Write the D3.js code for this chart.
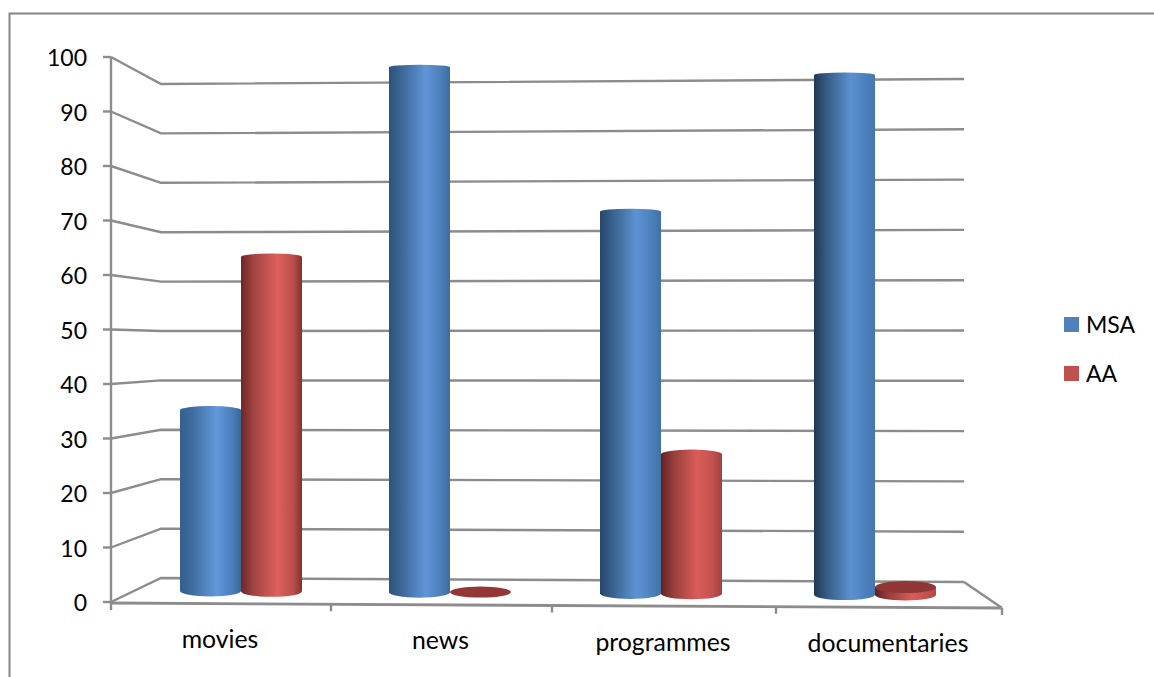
<!DOCTYPE html>
<html><head><meta charset="utf-8">
<script src="https://cdn.jsdelivr.net/npm/d3@7"></script>
<style>html,body{margin:0;padding:0;background:#fff}svg{display:block}text{font-family:Lato,"Open Sans",sans-serif;fill:#000}</style>
</head><body><svg id="c" width="1154" height="677"></svg>
<script>
const categories = ["movies","news","programmes","documentaries"];
const seriesNames = ["MSA","AA"];
const msaValues = [34.5,100,72.5,98.5];
const aaValues = [63.8,0,26.5,1.5];
const yTicks = [0,10,20,30,40,50,60,70,80,90,100];

const svg = d3.select("#c");
const W=1154,H=677;
// Perspective planes of the box
const yFront = d3.scaleLinear().domain([0,100]).range([602,57]);
const yBackL = d3.scaleLinear().domain([0,100]).range([578,84]);
const yBackR = d3.scaleLinear().domain([0,100]).range([582,79]);
const xFrontL=111, xBackL=161, xBackR=964, xFrontR=1002;
const GRID="#8c8c8c", SW=2.4;
// Frame
svg.append("path").attr("d",`M9.5,${H}V13.5H${W}`).attr("fill","none").attr("stroke","#868686").attr("stroke-width",2);

const line=d3.line();
// gridlines
yTicks.forEach(t=>{
  svg.append("path").attr("d",line([[xFrontL,yFront(t)],[xBackL,yBackL(t)],[xBackR,yBackR(t)]]))
    .attr("fill","none").attr("stroke",GRID).attr("stroke-width",SW);
  svg.append("path").attr("d",line([[103,yFront(t)],[xFrontL,yFront(t)]])).attr("stroke",GRID).attr("stroke-width",SW);
  svg.append("text").attr("x",87).attr("y",yFront(t)+9).attr("text-anchor","end").attr("font-size",23).text(t);
});
// axes
svg.append("path").attr("d",line([[xFrontL,57],[xFrontL,604]])).attr("stroke",GRID).attr("stroke-width",SW);
svg.append("path").attr("d",line([[xFrontL,603],[xFrontR,608]])).attr("stroke",GRID).attr("stroke-width",SW+.4);
svg.append("path").attr("d",line([[xBackR,582],[xFrontR,608]])).attr("stroke",GRID).attr("stroke-width",SW);
// category ticks & labels
const xTick=d3.scaleLinear().domain(d3.range(categories.length+1)).range([111,331,552,776,1002]);
const yFloor=d3.scaleLinear().domain([xFrontL,xFrontR]).range([603,608]);
d3.range(categories.length+1).forEach(i=>{
  const x=xTick(i);
  svg.append("path").attr("d",line([[x,yFloor(x)],[x,yFloor(x)+7]])).attr("stroke",GRID).attr("stroke-width",SW);
});
categories.forEach((c,i)=>{
  const x=xTick(i+.5);
  svg.append("text").attr("x",x-1).attr("y",yFloor(x)+44.5).attr("text-anchor","middle").attr("font-size",24.8).text(c);
});

// bars on mid-depth plane
const xCat=d3.scaleLinear().domain([0,1,2,3]).range([241,450,661,875]);
const xSer=d3.scaleBand().domain(seriesNames).range([-61,61]);
const yBase=d3.scaleLinear().domain([210,905]).range([591,595]);
const topPx=d3.scaleLinear().domain([210,905]).range([67,67]);
const ryOf=d3.scaleLinear().domain([600,60]).range([5.5,2.2]);
const defs=svg.append("defs");
const shade={MSA:{left:["#33608f","#1d3450"],inner:["#3f6c9f","#34597f"],mid:["#6198dc","#5b8fd0"],outer:["#4c7fba","#4c80bc"],right:["#3a6797","#4578b0"]},
 AA:{left:["#6e2826","#5e201f"],inner:["#a04442","#923b39"],mid:["#dd605b","#d85c58"],outer:["#bd4f4c","#c2524f"],right:["#7f2f2d","#b04a48"]}};
const stopAt={left:"0%",inner:"20%",mid:"60%",outer:"85%",right:"100%"};
const lightT=d3.scaleLinear().domain([210,905]).range([0,1]).clamp(true);
const values={MSA:msaValues,AA:aaValues};
categories.forEach((c,i)=>{
  seriesNames.forEach(s=>{
    const v=values[s][i];
    const cx=xCat(i)+xSer(s)+xSer.bandwidth()/2;
    const rx=xSer.bandwidth()/2;
    const b=yBase(cx);
    const yT=d3.scaleLinear().domain([0,100]).range([b,topPx(cx)])(v);
    const ryB=ryOf(b), ryT=ryOf(yT);
    if(v===0){
      svg.append("ellipse").attr("cx",cx).attr("cy",b-.5).attr("rx",rx).attr("ry",5.5).attr("fill","#933634");
      return;
    }
    const id=`g${s}${i}`, g=defs.append("linearGradient").attr("id",id), t=lightT(cx);
    Object.keys(stopAt).forEach(k=>g.append("stop").attr("offset",stopAt[k]).attr("stop-color",d3.interpolateRgb(shade[s][k][0],shade[s][k][1])(t)));
    const flat=v<10;
    const top=flat?`M${cx-rx},${yT}`:`M${cx+rx},${yT}A${rx},${ryT} 0 0 0 ${cx-rx},${yT}`;
    svg.append("path").attr("d",`${top}V${b}A${rx},${ryB} 0 0 0 ${cx+rx},${b}V${yT}Z`).attr("fill",`url(#${id})`);
    if(flat) svg.append("ellipse").attr("cx",cx).attr("cy",yT).attr("rx",rx).attr("ry",6).attr("fill","#8f3735");
  });
});

// legend
const yLeg=d3.scalePoint().domain(seriesNames).range([325,374]);
const legColor={MSA:"#4f81bd",AA:"#c0504d"};
seriesNames.forEach(s=>{
  svg.append("rect").attr("x",1064).attr("y",yLeg(s)-8).attr("width",15).attr("height",15).attr("fill",legColor[s]);
  svg.append("text").attr("x",1086).attr("y",yLeg(s)+7.5).attr("font-size",23).text(s);
});
</script></body></html>
